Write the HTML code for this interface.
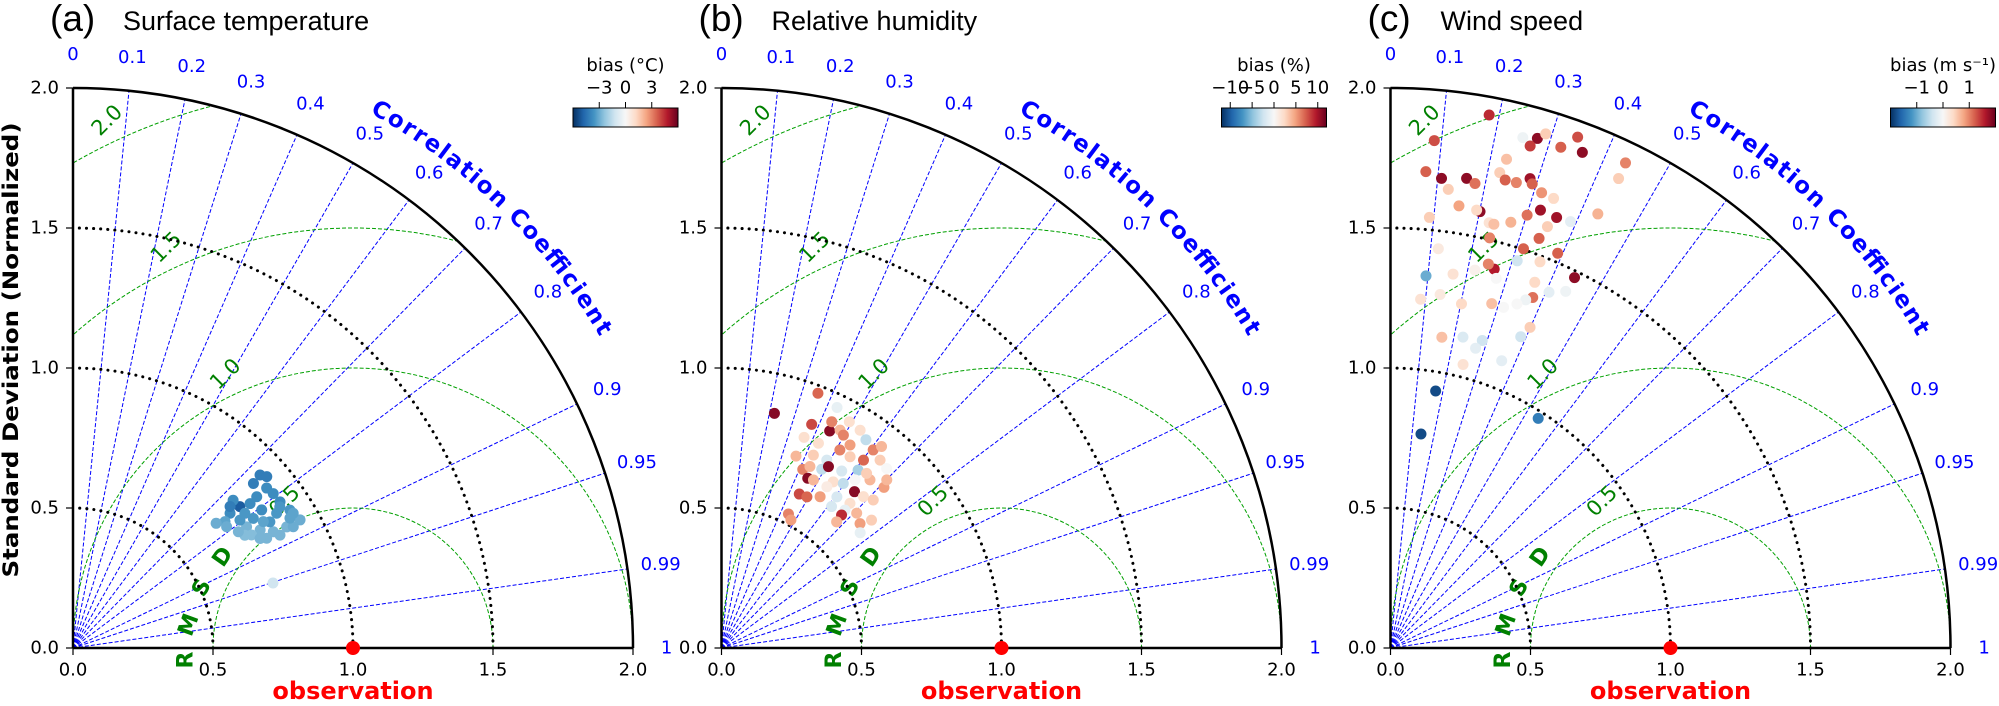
<!DOCTYPE html>
<html>
<head>
<meta charset="utf-8">
<style>
  html, body { margin: 0; padding: 0; background: #fff; overflow: hidden; }
  svg { display: block; }
  text { font-family: "DejaVu Sans", "Liberation Sans", sans-serif; }
  .ttl { font-family: "Liberation Sans", sans-serif; }
</style>
</head>
<body>
<svg id="fig" width="1999" height="706" viewBox="0 0 1999 706" xmlns="http://www.w3.org/2000/svg">
  <defs>
    <linearGradient id="rdbu" x1="0" x2="1" y1="0" y2="0">
      <stop offset="0" stop-color="#053061"/>
      <stop offset="0.1" stop-color="#2166ac"/>
      <stop offset="0.2" stop-color="#4393c3"/>
      <stop offset="0.3" stop-color="#92c5de"/>
      <stop offset="0.4" stop-color="#d1e5f0"/>
      <stop offset="0.5" stop-color="#f7f7f7"/>
      <stop offset="0.6" stop-color="#fddbc7"/>
      <stop offset="0.7" stop-color="#f4a582"/>
      <stop offset="0.8" stop-color="#d6604d"/>
      <stop offset="0.9" stop-color="#b2182b"/>
      <stop offset="1" stop-color="#67001f"/>
    </linearGradient>
  </defs>
  <text x="11" y="350" transform="rotate(-90 11 350)" text-anchor="middle" dominant-baseline="central" font-size="21" font-weight="bold" textLength="455" lengthAdjust="spacingAndGlyphs">Standard Deviation (Normalized)</text>
</svg>
<script>
// ---------- data ----------
const stdTicks = [0, 0.5, 1.0, 1.5, 2.0];
const stdTickLabels = ["0.0", "0.5", "1.0", "1.5", "2.0"];
const corrTicks = [0, 0.1, 0.2, 0.3, 0.4, 0.5, 0.6, 0.7, 0.8, 0.9, 0.95, 0.99, 1];
const corrTickLabels = ["0", "0.1", "0.2", "0.3", "0.4", "0.5", "0.6", "0.7", "0.8", "0.9", "0.95", "0.99", "1"];
const rmsdLevels = [0.5, 1.0, 1.5, 2.0];
const rmsdLabels = ["0.5", "1.0", "1.5", "2.0"];
const stdArcs = [0.5, 1.0, 1.5];
const panelTitles = ["Surface temperature", "Relative humidity", "Wind speed"];
const panelLetters = ["(a)", "(b)", "(c)"];
const cbarTitles = ["bias (°C)", "bias (%)", "bias (m s⁻¹)"];
const cbarMin = [-6, -12, -2];
const cbarMax = [6, 12, 2];
const cbarTicksA = [-3, 0, 3];
const cbarTicksB = [-10, -5, 0, 5, 10];
const cbarTicksC = [-1, 0, 1];

const stdA = [.910,.924,.897,.781,.739,.706,.816,.835,.872,.918,.931,.877,.827,.790,.756,.793,.835,.751,.850,.905,.778,.795,.734,.898,.872,.678,.751,.755,.894,.922,.699,.722,.755,.842,.816,.780,.903,.903,.774];
const corrA = [.734,.749,.771,.763,.759,.769,.775,.807,.834,.844,.871,.870,.865,.846,.820,.812,.842,.794,.772,.817,.735,.870,.836,.876,.739,.754,.951,.743,.826,.853,.785,.818,.845,.878,.833,.787,.792,.858,.863];
const biasA = [-4.2,-4.2,-3.8,-5.0,-3.8,-3.2,-3.8,-3.8,-3.5,-3.5,-3.0,-2.8,-2.8,-2.8,-2.8,-3.5,-3.5,-3.5,-3.8,-3.8,-3.8,-2.8,-2.6,-3.0,-4.2,-3.0,-1.2,-4.2,-3.5,-3.2,-3.0,-2.8,-2.6,-2.8,-3.2,-3.5,-3.8,-3.2,-2.8];

const stdB = [.859,.973,.953,.861,.866,.899,.808,.886,.928,.922,.905,.735,.763,.701,.680,.616,.535,.520,.769,.824,.823,.891,.878,.871,.732,.752,.764,.801,.801,.816,.715,.731,.733,.741,.684,.688,.679,.691,.661,.640,.682,.757,.665,.704,.610,.644,.645,.620,.809,.919,.811,.858,.640,.841,.721,.876,.842,.767];
const corrB = [.220,.354,.433,.374,.446,.438,.365,.478,.492,.537,.570,.362,.430,.414,.453,.451,.447,.477,.489,.513,.558,.608,.645,.677,.489,.508,.562,.609,.662,.711,.558,.595,.648,.684,.480,.547,.607,.664,.667,.670,.708,.716,.744,.761,.674,.769,.546,.492,.428,.622,.639,.535,.614,.603,.438,.497,.701,.622];
const biasB = [11,7,-1,8,11,6,2,4,2,2,-3,4,3,6,11,8,6,5,-2,6,3,6,3,0,-3,11,-2,-4,4,5,2,-3,11,2,4,1,-2,2,-1,9,4,3,5,3,4,-1,5,7,2,4,3,5,-2,7,4,6,4,0];

const stdC = [1.936,1.819,1.706,1.687,1.699,1.686,1.651,1.794,1.883,1.894,1.918,1.861,1.889,1.943,1.898,1.925,1.864,1.742,1.721,1.722,1.749,1.733,1.713,1.708,1.598,1.591,1.594,1.544,1.559,1.558,1.580,1.621,1.653,1.648,1.653,1.718,1.606,1.556,1.507,1.503,1.531,1.436,1.403,1.415,1.455,1.479,1.335,1.354,1.383,1.373,1.477,1.404,1.351,1.391,1.419,1.334,1.309,1.282,1.282,1.255,1.275,1.250,1.125,1.140,1.146,1.113,1.205,1.249,1.100,1.045,.932,.975,.772];
const corrC = [.182,.086,.074,.108,.160,.179,.125,.231,.251,.277,.289,.268,.322,.344,.361,.436,.437,.224,.238,.261,.285,.292,.315,.341,.153,.201,.193,.090,.226,.237,.272,.301,.324,.360,.389,.431,.349,.341,.235,.316,.390,.119,.264,.247,.311,.361,.095,.165,.218,.275,.445,.367,.376,.407,.441,.362,.345,.315,.282,.202,.139,.086,.163,.227,.286,.273,.386,.399,.361,.248,.173,.541,.141];
const biasC = [1.5,1.3,1.2,1.8,1.8,1.1,0.5,0.6,-0.1,1.8,0.5,1.4,1.2,1.3,1.8,1.0,0.5,0.5,1.2,1.0,1.7,1.2,0.9,0.4,0.8,1.8,0.4,0.5,0.3,0.6,0.7,1.1,1.7,1.7,-0.2,0.7,0.5,1.2,1.0,1.2,1.2,0.2,1.6,1.0,-0.4,0.4,-1.0,0.3,0.1,0.0,1.8,0.4,1.1,-0.2,-0.1,-0.1,0.0,0.0,0.6,0.4,0.2,0.3,0.6,-0.3,-0.4,-0.2,-0.4,0.5,-0.2,0.3,-1.8,-1.4,-1.8];

// ---------- layout ----------
const NS = "http://www.w3.org/2000/svg";
const svg = document.getElementById("fig");
const K = 280;
const OY = 648;
const OX = [73, 721.5, 1390.5];
const cmapStops = ["#053061","#2166ac","#4393c3","#92c5de","#d1e5f0","#f7f7f7","#fddbc7","#f4a582","#d6604d","#b2182b","#67001f"];

function mk(tag, attrs, parent) {
  const e = document.createElementNS(NS, tag);
  for (const k in attrs) e.setAttribute(k, attrs[k]);
  parent.appendChild(e);
  return e;
}
function hex2rgb(h) { return [parseInt(h.substr(1,2),16), parseInt(h.substr(3,2),16), parseInt(h.substr(5,2),16)]; }
function cmap(v, lo, hi) {
  let t = (v - lo) / (hi - lo); t = Math.max(0, Math.min(1, t));
  const p = t * 10, i = Math.min(9, Math.floor(p)), f = p - i;
  const a = hex2rgb(cmapStops[i]), b = hex2rgb(cmapStops[i + 1]);
  return "rgb(" + a.map((c, j) => Math.round(c + (b[j] - c) * f)).join(",") + ")";
}
function px(std, corr) { return std * corr * K; }
function py(std, corr) { return -std * Math.sqrt(Math.max(0, 1 - corr * corr)) * K; }

const stdSets = [stdA, stdB, stdC];
const corrSets = [corrA, corrB, corrC];
const biasSets = [biasA, biasB, biasC];
const cbarTickSets = [cbarTicksA, cbarTicksB, cbarTicksC];
const keys = ["a", "b", "c"];

for (let p = 0; p < 3; p++) {
  const ox = OX[p];
  const key = keys[p];
  const g = mk("g", { transform: "translate(" + ox + "," + OY + ")" }, svg);
  
  

  const lt = mk("text", { x: -23, y: 31 - OY, "font-size": 37, class: "ttl" }, g);
  lt.textContent = panelLetters[p];
  
  
  const tt = mk("text", { x: 50, y: 30 - OY, "font-size": 27, class: "ttl" }, g);
  tt.textContent = panelTitles[p];
  
  

  const cp = mk("clipPath", { id: "clip" + key }, g);
  mk("path", { d: "M0,0 L" + 2 * K + ",0 A" + 2 * K + "," + 2 * K + " 0 0,0 0," + (-2 * K) + " Z" }, cp);

  const cg = mk("g", {}, g);
  
  
  corrTicks.forEach((c, i) => {
    if (c > 0 && c < 1) {
      const l = mk("line", { x1: 0, y1: 0, x2: px(2, c), y2: py(2, c), stroke: "#0000ff", "stroke-width": 1, "stroke-dasharray": "4 2" }, cg);
      
      
    }
    const t = mk("text", { x: px(2.12, c), y: py(2.12, c), "font-size": 18, fill: "#0000ff", "text-anchor": "middle", "dominant-baseline": "central" }, cg);
    t.textContent = corrTickLabels[i];
    
    
  });

  const rg = mk("g", { "clip-path": "url(#clip" + key + ")" }, g);
  
  
  rmsdLevels.forEach((r) => {
    const c = mk("circle", { cx: K, cy: 0, r: r * K, fill: "none", stroke: "#00a000", "stroke-width": 1, "stroke-dasharray": "4 2" }, rg);
    
    
  });
  rmsdLevels.forEach((r, i) => {
    const a = 115 * Math.PI / 180, rr = r + 0.08;
    const x = K + rr * K * Math.cos(a), y = -rr * K * Math.sin(a);
    const t = mk("text", { x: x, y: y, "font-size": 21, fill: "#008000", "text-anchor": "middle", "dominant-baseline": "central", transform: "rotate(-45 " + x + " " + y + ")" }, g);
    t.textContent = rmsdLabels[i];
    
    
  });
  const letters = [["R", 113, 12, -90], ["M", 116, -23, -70], ["S", 129, -60, -60], ["D", 150, -91, -55]];
  letters.forEach((L) => {
    const t = mk("text", { x: L[1], y: L[2], "font-size": 22, "font-weight": "bold", fill: "#008000", "text-anchor": "middle", "dominant-baseline": "central", transform: "rotate(" + L[3] + " " + L[1] + " " + L[2] + ")" }, g);
    t.textContent = L[0];
    
    
  });

  stdArcs.forEach((r) => {
    const a = mk("path", { d: "M" + r * K + ",0 A" + r * K + "," + r * K + " 0 0,0 0," + (-r * K), fill: "none", stroke: "#000", "stroke-width": 3, "stroke-dasharray": "0.1 7", "stroke-linecap": "round" }, g);
    
    
  });
  const oa = mk("path", { d: "M" + 2 * K + ",0 A" + 2 * K + "," + 2 * K + " 0 0,0 0," + (-2 * K), fill: "none", stroke: "#000", "stroke-width": 2.5 }, g);
  
  
  const xa = mk("line", { x1: 0, y1: 0, x2: 2 * K, y2: 0, stroke: "#000", "stroke-width": 2.5 }, g);
  
  
  const ya = mk("line", { x1: 0, y1: 0, x2: 0, y2: -2 * K, stroke: "#000", "stroke-width": 2.5 }, g);
  
  

  stdTicks.forEach((v, i) => {
    mk("line", { x1: v * K, y1: 0, x2: v * K, y2: 7, stroke: "#000", "stroke-width": 1.2 }, g);
    const tx = mk("text", { x: v * K, y: 22, "font-size": 18, "text-anchor": "middle", "dominant-baseline": "central" }, g);
    tx.textContent = stdTickLabels[i];
    
    
    mk("line", { x1: -7, y1: -v * K, x2: 0, y2: -v * K, stroke: "#000", "stroke-width": 1.2 }, g);
    const ty = mk("text", { x: -14, y: -v * K, "font-size": 18, "text-anchor": "end", "dominant-baseline": "central" }, g);
    ty.textContent = stdTickLabels[i];
    
    
  });

  const rr = 612, a1 = 61 * Math.PI / 180, a2 = 30 * Math.PI / 180;
  mk("path", { id: "cc" + key, d: "M" + rr * Math.cos(a1) + "," + (-rr * Math.sin(a1)) + " A" + rr + "," + rr + " 0 0,1 " + rr * Math.cos(a2) + "," + (-rr * Math.sin(a2)), fill: "none" }, g);
  const ct = mk("text", { "font-size": 23, "font-weight": "bold", fill: "#0000ff" }, g);
  
  
  const tp = mk("textPath", { href: "#cc" + key, textLength: 325, lengthAdjust: "spacing" }, ct);
  tp.textContent = "Correlation Coefficient";

  const sg = mk("g", {}, g);
  
  
  const S = stdSets[p], C = corrSets[p], B = biasSets[p];
  for (let i = 0; i < S.length; i++) {
    const c = mk("circle", { cx: px(S[i], C[i]), cy: py(S[i], C[i]), r: 5.5, fill: cmap(B[i], cbarMin[p], cbarMax[p]) }, sg);
    
    
  }

  const ob = mk("circle", { cx: px(1, 1), cy: py(1, 1), r: 7, fill: "#ff0000" }, g);
  
  
  const ol = mk("text", { x: px(1, 1), y: 699 - OY, "font-size": 24, "font-weight": "bold", fill: "#ff0000", "text-anchor": "middle" }, g);
  ol.textContent = "observation";
  
  

  const cbg = mk("g", {}, g);
  
  
  const bx = 500, bw = 105, by = 108 - OY, bh = 19;
  mk("rect", { x: bx, y: by, width: bw, height: bh, fill: "url(#rdbu)", stroke: "#000", "stroke-width": 1 }, cbg);
  const ctk = cbarTickSets[p];
  ctk.forEach((v) => {
    const x = bx + (v - cbarMin[p]) / (cbarMax[p] - cbarMin[p]) * bw;
    mk("line", { x1: x, y1: by - 6, x2: x, y2: by, stroke: "#000", "stroke-width": 1 }, cbg);
    const t = mk("text", { x: x, y: by - 20, "font-size": 18, "text-anchor": "middle", "dominant-baseline": "central" }, cbg);
    t.textContent = (v < 0 ? "−" + Math.abs(v) : String(v));
    
    
  });
  const cbt = mk("text", { x: bx + bw / 2, y: 71 - OY, "font-size": 18, "text-anchor": "middle" }, cbg);
  cbt.textContent = cbarTitles[p];
  
  
}
</script>
</body>
</html>
